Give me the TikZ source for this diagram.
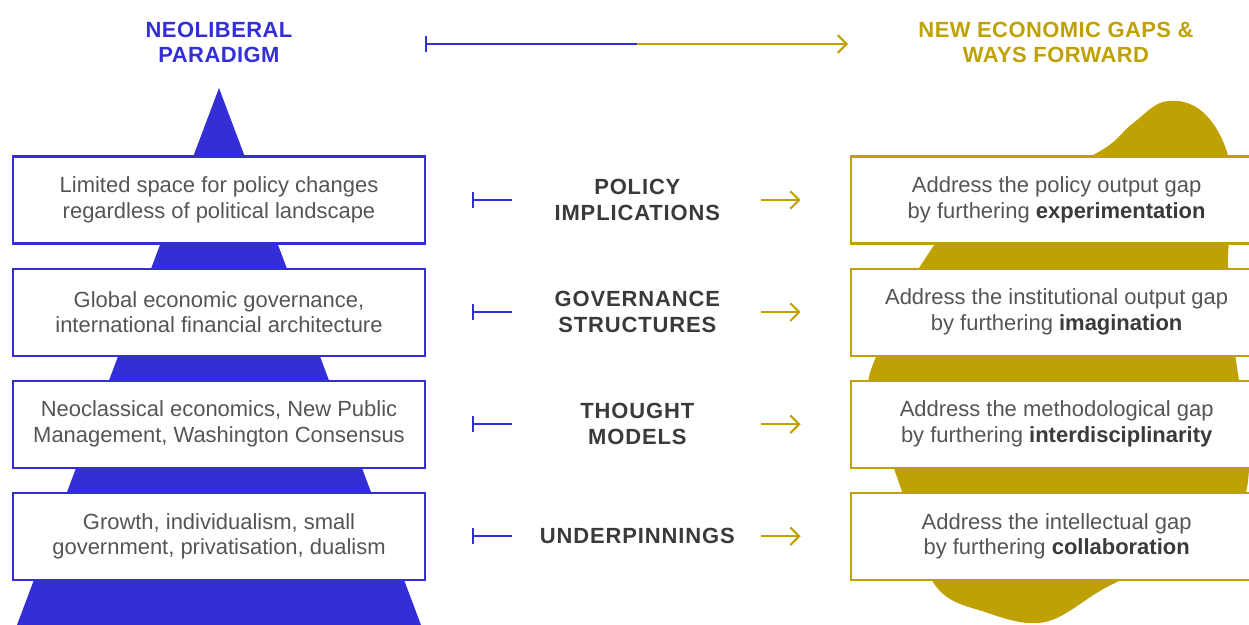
\documentclass[tikz,border=0pt]{standalone}
\usepackage{fontspec}
\setmainfont{Liberation Sans}
\usetikzlibrary{positioning,arrows.meta}
\definecolor{neoblue}{RGB}{52,46,214}
\definecolor{gapgold}{RGB}{192,161,3}
\definecolor{txtgray}{RGB}{85,85,85}
\definecolor{lblgray}{RGB}{58,58,58}

\begin{document}
\begin{tikzpicture} [x=0.02cm,y=-0.02cm,
			neo box/.style={draw=neoblue,fill=white,line width=1.2pt,minimum width=8.24cm,minimum height=1.74cm,
				align=center,text=txtgray,font=\fontsize{12.5}{14.7}\selectfont},
			gap box/.style={neo box,draw=gapgold},
			row label/.style={align=center,text=lblgray,text width=4.2cm,inner xsep=0pt,
				font=\fontsize{12.5}{14.7}\selectfont\bfseries\addfontfeature{LetterSpace=4}},
			head/.style={align=center,font=\fontsize{12.5}{14.2}\selectfont\bfseries\addfontfeature{LetterSpace=2}},
			from neo/.style={neoblue,line width=1.2pt,{Bar[width=9pt]}-,shorten <=0.92cm,shorten >=0.4cm},
			to gap/.style={gapgold,line width=1.2pt,-{Straight Barb[length=5pt,width=10pt]},shorten <=0.36cm,shorten >=0.98cm},
			node distance=0.46cm]
			\useasboundingbox (0,0) rectangle (1249,625);
			\clip (0,0) rectangle (1249,625);

			% backdrops
			\fill[gapgold] plot[smooth cycle,tension=0.6] coordinates {(1132,124) (1163,102) (1196,107) (1221,137) (1233,185)
				(1228,260) (1232,330) (1244,415) (1249,470) (1236,510) (1180,552) (1107,587) (1045,622) (985,612) (935,585)
				(905,500) (880,428) (868,390) (878,352) (919,268) (975,205) (1093,155)};
			\fill[neoblue] (219,88) -- (421,625) -- (17,625) -- cycle;

			% headings
			\node[head,text=neoblue] (neo) at (219,42) {NEOLIBERAL\\PARADIGM};
			\node[head,text=gapgold] (gaps) at (1056,42) {NEW ECONOMIC GAPS \&\\WAYS FORWARD};
			\coordinate (ta) at (425,44);
			\coordinate (tm) at (637,44);
			\coordinate (tb) at (848,44);
			\draw[neoblue,line width=1.2pt,{Bar[width=9pt]}-] (ta) -- (tm);
			\draw[gapgold,line width=1.2pt,-{Straight Barb[length=5pt,width=10pt]}] (tm) -- (tb);

			% rows
			\node[neo box] (l1) at (219,200) {Limited space for policy changes\\regardless of political landscape};
			\node[neo box] (l2) [below=of l1] {Global economic governance,\\international financial architecture};
			\node[neo box] (l3) [below=of l2] {Neoclassical economics, New Public\\Management, Washington Consensus};
			\node[neo box] (l4) [below=of l3] {Growth, individualism, small\\government, privatisation, dualism};

			\node[row label] (m1) [right=2.12cm of l1] {POLICY\\IMPLICATIONS};
			\node[row label] (m2) [right=2.12cm of l2] {GOVERNANCE\\STRUCTURES};
			\node[row label] (m3) [right=2.12cm of l3] {THOUGHT\\MODELS};
			\node[row label] (m4) [right=2.12cm of l4] {UNDERPINNINGS};

			\node[gap box] (r1) [right=2.14cm of m1] {Address the policy output gap\\by furthering \textcolor{lblgray}{\textbf{experimentation}}};
			\node[gap box] (r2) [right=2.14cm of m2] {Address the institutional output gap\\by furthering \textcolor{lblgray}{\textbf{imagination}}};
			\node[gap box] (r3) [right=2.14cm of m3] {Address the methodological gap\\by furthering \textcolor{lblgray}{\textbf{interdisciplinarity}}};
			\node[gap box] (r4) [right=2.14cm of m4] {Address the intellectual gap\\by furthering \textcolor{lblgray}{\textbf{collaboration}}};

			\foreach \i in {1,...,4} {
				\draw[from neo] (l\i.east) -- (m\i.west);
				\draw[to gap] (m\i.east) -- (r\i.west);
			}
		\end{tikzpicture}
\end{document}
